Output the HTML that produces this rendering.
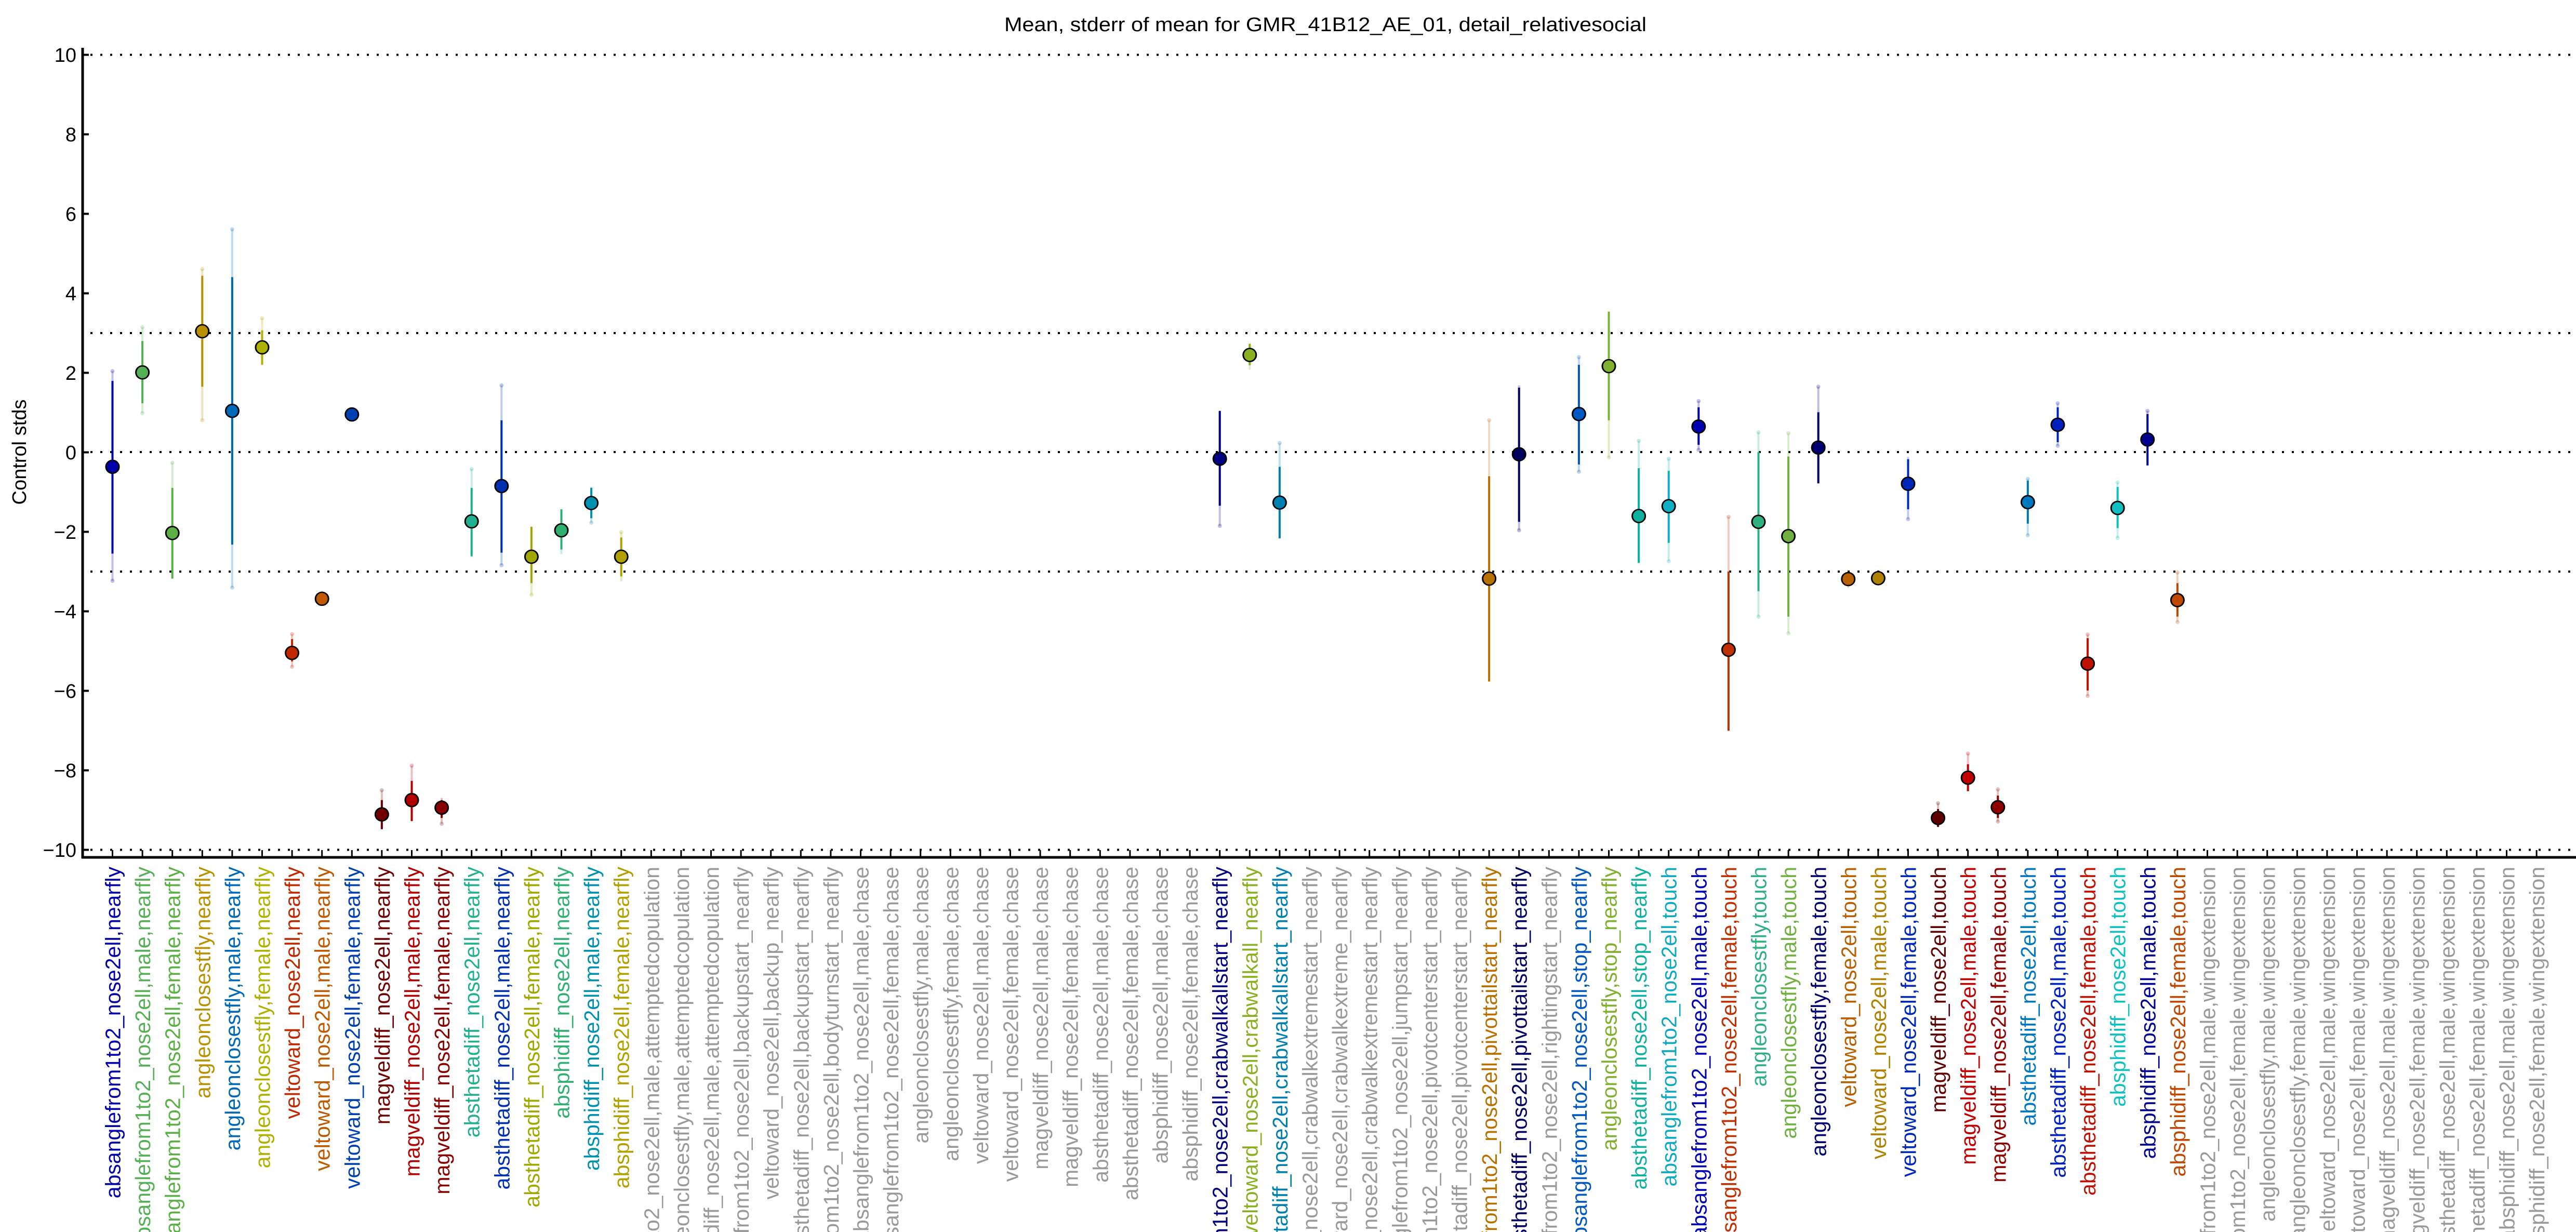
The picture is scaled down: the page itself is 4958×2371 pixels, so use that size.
<!DOCTYPE html>
<html><head><meta charset="utf-8"><style>
html,body{margin:0;padding:0;background:#fff;width:4958px;height:2371px;overflow:hidden;}
svg{display:block;font-family:"Liberation Sans",Arial,sans-serif;overflow:hidden;}
</style></head><body>
<svg width="4958" height="2371" viewBox="0 0 4958 2371" xmlns="http://www.w3.org/2000/svg">
<rect width="4958" height="2371" fill="#fff"/>
<text x="2551" y="60" font-size="38" text-anchor="middle" textLength="1236" lengthAdjust="spacingAndGlyphs">Mean, stderr of mean for GMR_41B12_AE_01, detail_relativesocial</text>
<text transform="translate(50,870) rotate(-90)" font-size="38" text-anchor="middle">Control stds</text>
<g stroke="#000" stroke-width="4" stroke-dasharray="4 15">
<line x1="174" y1="105.5" x2="4958" y2="105.5"/>
<line x1="174" y1="641" x2="4958" y2="641"/>
<line x1="174" y1="870" x2="4958" y2="870"/>
<line x1="174" y1="1100" x2="4958" y2="1100"/>
<line x1="174" y1="1635.5" x2="4958" y2="1635.5"/>
</g>
<line x1="159" y1="92" x2="159" y2="1652" stroke="#000" stroke-width="5"/>
<line x1="157" y1="1650" x2="4958" y2="1650" stroke="#000" stroke-width="5"/>
<g stroke="#000" stroke-width="4">
<line x1="159" y1="105.5" x2="171" y2="105.5"/><line x1="159" y1="258.5" x2="171" y2="258.5"/><line x1="159" y1="411.5" x2="171" y2="411.5"/><line x1="159" y1="564.5" x2="171" y2="564.5"/><line x1="159" y1="717.5" x2="171" y2="717.5"/><line x1="159" y1="870.5" x2="171" y2="870.5"/><line x1="159" y1="1023.5" x2="171" y2="1023.5"/><line x1="159" y1="1176.5" x2="171" y2="1176.5"/><line x1="159" y1="1329.5" x2="171" y2="1329.5"/><line x1="159" y1="1482.5" x2="171" y2="1482.5"/><line x1="159" y1="1635.5" x2="171" y2="1635.5"/>
</g>
<g font-size="38" text-anchor="end">
<text x="147" y="119">10</text><text x="147" y="272">8</text><text x="147" y="425">6</text><text x="147" y="578">4</text><text x="147" y="731">2</text><text x="147" y="884">0</text><text x="147" y="1037">−2</text><text x="147" y="1190">−4</text><text x="147" y="1343">−6</text><text x="147" y="1496">−8</text><text x="147" y="1649">−10</text>
</g>
<g stroke="#000" stroke-width="3">
<line x1="216.5" y1="1650" x2="216.5" y2="1636"/><line x1="274.1" y1="1650" x2="274.1" y2="1636"/><line x1="331.7" y1="1650" x2="331.7" y2="1636"/><line x1="389.3" y1="1650" x2="389.3" y2="1636"/><line x1="446.9" y1="1650" x2="446.9" y2="1636"/><line x1="504.5" y1="1650" x2="504.5" y2="1636"/><line x1="562.1" y1="1650" x2="562.1" y2="1636"/><line x1="619.7" y1="1650" x2="619.7" y2="1636"/><line x1="677.3" y1="1650" x2="677.3" y2="1636"/><line x1="734.9" y1="1650" x2="734.9" y2="1636"/><line x1="792.5" y1="1650" x2="792.5" y2="1636"/><line x1="850.1" y1="1650" x2="850.1" y2="1636"/><line x1="907.7" y1="1650" x2="907.7" y2="1636"/><line x1="965.3" y1="1650" x2="965.3" y2="1636"/><line x1="1022.9" y1="1650" x2="1022.9" y2="1636"/><line x1="1080.5" y1="1650" x2="1080.5" y2="1636"/><line x1="1138.1" y1="1650" x2="1138.1" y2="1636"/><line x1="1195.7" y1="1650" x2="1195.7" y2="1636"/><line x1="1253.3" y1="1650" x2="1253.3" y2="1636"/><line x1="1310.9" y1="1650" x2="1310.9" y2="1636"/><line x1="1368.5" y1="1650" x2="1368.5" y2="1636"/><line x1="1426.1" y1="1650" x2="1426.1" y2="1636"/><line x1="1483.7" y1="1650" x2="1483.7" y2="1636"/><line x1="1541.3" y1="1650" x2="1541.3" y2="1636"/><line x1="1598.9" y1="1650" x2="1598.9" y2="1636"/><line x1="1656.5" y1="1650" x2="1656.5" y2="1636"/><line x1="1714.1" y1="1650" x2="1714.1" y2="1636"/><line x1="1771.7" y1="1650" x2="1771.7" y2="1636"/><line x1="1829.3" y1="1650" x2="1829.3" y2="1636"/><line x1="1886.9" y1="1650" x2="1886.9" y2="1636"/><line x1="1944.5" y1="1650" x2="1944.5" y2="1636"/><line x1="2002.1" y1="1650" x2="2002.1" y2="1636"/><line x1="2059.7" y1="1650" x2="2059.7" y2="1636"/><line x1="2117.3" y1="1650" x2="2117.3" y2="1636"/><line x1="2174.9" y1="1650" x2="2174.9" y2="1636"/><line x1="2232.5" y1="1650" x2="2232.5" y2="1636"/><line x1="2290.1" y1="1650" x2="2290.1" y2="1636"/><line x1="2347.7" y1="1650" x2="2347.7" y2="1636"/><line x1="2405.3" y1="1650" x2="2405.3" y2="1636"/><line x1="2462.9" y1="1650" x2="2462.9" y2="1636"/><line x1="2520.5" y1="1650" x2="2520.5" y2="1636"/><line x1="2578.1" y1="1650" x2="2578.1" y2="1636"/><line x1="2635.7" y1="1650" x2="2635.7" y2="1636"/><line x1="2693.3" y1="1650" x2="2693.3" y2="1636"/><line x1="2750.9" y1="1650" x2="2750.9" y2="1636"/><line x1="2808.5" y1="1650" x2="2808.5" y2="1636"/><line x1="2866.1" y1="1650" x2="2866.1" y2="1636"/><line x1="2923.7" y1="1650" x2="2923.7" y2="1636"/><line x1="2981.3" y1="1650" x2="2981.3" y2="1636"/><line x1="3038.9" y1="1650" x2="3038.9" y2="1636"/><line x1="3096.5" y1="1650" x2="3096.5" y2="1636"/><line x1="3154.1" y1="1650" x2="3154.1" y2="1636"/><line x1="3211.7" y1="1650" x2="3211.7" y2="1636"/><line x1="3269.3" y1="1650" x2="3269.3" y2="1636"/><line x1="3326.9" y1="1650" x2="3326.9" y2="1636"/><line x1="3384.5" y1="1650" x2="3384.5" y2="1636"/><line x1="3442.1" y1="1650" x2="3442.1" y2="1636"/><line x1="3499.7" y1="1650" x2="3499.7" y2="1636"/><line x1="3557.3" y1="1650" x2="3557.3" y2="1636"/><line x1="3614.9" y1="1650" x2="3614.9" y2="1636"/><line x1="3672.5" y1="1650" x2="3672.5" y2="1636"/><line x1="3730.1" y1="1650" x2="3730.1" y2="1636"/><line x1="3787.7" y1="1650" x2="3787.7" y2="1636"/><line x1="3845.3" y1="1650" x2="3845.3" y2="1636"/><line x1="3902.9" y1="1650" x2="3902.9" y2="1636"/><line x1="3960.5" y1="1650" x2="3960.5" y2="1636"/><line x1="4018.1" y1="1650" x2="4018.1" y2="1636"/><line x1="4075.7" y1="1650" x2="4075.7" y2="1636"/><line x1="4133.3" y1="1650" x2="4133.3" y2="1636"/><line x1="4190.9" y1="1650" x2="4190.9" y2="1636"/><line x1="4248.5" y1="1650" x2="4248.5" y2="1636"/><line x1="4306.1" y1="1650" x2="4306.1" y2="1636"/><line x1="4363.7" y1="1650" x2="4363.7" y2="1636"/><line x1="4421.3" y1="1650" x2="4421.3" y2="1636"/><line x1="4478.9" y1="1650" x2="4478.9" y2="1636"/><line x1="4536.5" y1="1650" x2="4536.5" y2="1636"/><line x1="4594.1" y1="1650" x2="4594.1" y2="1636"/><line x1="4651.7" y1="1650" x2="4651.7" y2="1636"/><line x1="4709.3" y1="1650" x2="4709.3" y2="1636"/><line x1="4766.9" y1="1650" x2="4766.9" y2="1636"/><line x1="4824.5" y1="1650" x2="4824.5" y2="1636"/><line x1="4882.1" y1="1650" x2="4882.1" y2="1636"/>
</g>

<g transform="translate(0,300) scale(1,0.86096)" stroke-width="4">
<g stroke="#0000a8" fill="#0000a8"><line x1="216.5" y1="481" x2="216.5" y2="950" stroke-opacity=".25"/><line x1="216.5" y1="503" x2="216.5" y2="889"/><ellipse cx="216.5" cy="481" rx="4" ry="4.6" stroke="none" fill-opacity=".25"/><ellipse cx="216.5" cy="950" rx="4" ry="4.6" stroke="none" fill-opacity=".25"/><ellipse cx="216.5" cy="695" rx="12.5" ry="14.5" stroke="#000" stroke-width="3"/></g>
<g stroke="#55b055" fill="#55b055"><line x1="274.1" y1="383" x2="274.1" y2="575" stroke-opacity=".25"/><line x1="274.1" y1="414" x2="274.1" y2="553"/><ellipse cx="274.1" cy="383" rx="4" ry="4.6" stroke="none" fill-opacity=".25"/><ellipse cx="274.1" cy="575" rx="4" ry="4.6" stroke="none" fill-opacity=".25"/><ellipse cx="274.1" cy="484" rx="12.5" ry="14.5" stroke="#000" stroke-width="3"/></g>
<g stroke="#5ab045" fill="#5ab045"><line x1="331.7" y1="686" x2="331.7" y2="945" stroke-opacity=".25"/><line x1="331.7" y1="742" x2="331.7" y2="945"/><ellipse cx="331.7" cy="686" rx="4" ry="4.6" stroke="none" fill-opacity=".25"/><ellipse cx="331.7" cy="843" rx="12.5" ry="14.5" stroke="#000" stroke-width="3"/></g>
<g stroke="#b89000" fill="#b89000"><line x1="389.3" y1="253" x2="389.3" y2="591" stroke-opacity=".25"/><line x1="389.3" y1="268" x2="389.3" y2="516"/><ellipse cx="389.3" cy="253" rx="4" ry="4.6" stroke="none" fill-opacity=".25"/><ellipse cx="389.3" cy="591" rx="4" ry="4.6" stroke="none" fill-opacity=".25"/><ellipse cx="389.3" cy="392" rx="12.5" ry="14.5" stroke="#000" stroke-width="3"/></g>
<g stroke="#0068b8" fill="#0068b8"><line x1="446.9" y1="164" x2="446.9" y2="965" stroke-opacity=".25"/><line x1="446.9" y1="271" x2="446.9" y2="869"/><ellipse cx="446.9" cy="164" rx="4" ry="4.6" stroke="none" fill-opacity=".25"/><ellipse cx="446.9" cy="965" rx="4" ry="4.6" stroke="none" fill-opacity=".25"/><ellipse cx="446.9" cy="570" rx="12.5" ry="14.5" stroke="#000" stroke-width="3"/></g>
<g stroke="#b0b000" fill="#b0b000"><line x1="504.5" y1="363" x2="504.5" y2="467" stroke-opacity=".25"/><line x1="504.5" y1="390" x2="504.5" y2="467"/><ellipse cx="504.5" cy="363" rx="4" ry="4.6" stroke="none" fill-opacity=".25"/><ellipse cx="504.5" cy="428" rx="12.5" ry="14.5" stroke="#000" stroke-width="3"/></g>
<g stroke="#c02800" fill="#c02800"><line x1="562.1" y1="1069" x2="562.1" y2="1142" stroke-opacity=".25"/><line x1="562.1" y1="1080" x2="562.1" y2="1130"/><ellipse cx="562.1" cy="1069" rx="4" ry="4.6" stroke="none" fill-opacity=".25"/><ellipse cx="562.1" cy="1142" rx="4" ry="4.6" stroke="none" fill-opacity=".25"/><ellipse cx="562.1" cy="1111" rx="12.5" ry="14.5" stroke="#000" stroke-width="3"/></g>
<g stroke="#c05800" fill="#c05800"><line x1="619.7" y1="972" x2="619.7" y2="1005" stroke-opacity=".25"/><ellipse cx="619.7" cy="990" rx="12.5" ry="14.5" stroke="#000" stroke-width="3"/></g>
<g stroke="#0040b0" fill="#0040b0"><ellipse cx="677.3" cy="578" rx="12.5" ry="14.5" stroke="#000" stroke-width="3"/></g>
<g stroke="#700000" fill="#700000"><line x1="734.9" y1="1418" x2="734.9" y2="1505" stroke-opacity=".25"/><line x1="734.9" y1="1440" x2="734.9" y2="1505"/><ellipse cx="734.9" cy="1418" rx="4" ry="4.6" stroke="none" fill-opacity=".25"/><ellipse cx="734.9" cy="1472" rx="12.5" ry="14.5" stroke="#000" stroke-width="3"/></g>
<g stroke="#b00000" fill="#b00000"><line x1="792.5" y1="1363" x2="792.5" y2="1475" stroke-opacity=".25"/><line x1="792.5" y1="1397" x2="792.5" y2="1487"/><ellipse cx="792.5" cy="1363" rx="4" ry="4.6" stroke="none" fill-opacity=".25"/><ellipse cx="792.5" cy="1440" rx="12.5" ry="14.5" stroke="#000" stroke-width="3"/></g>
<g stroke="#880000" fill="#880000"><line x1="850.1" y1="1435" x2="850.1" y2="1493" stroke-opacity=".25"/><line x1="850.1" y1="1440" x2="850.1" y2="1480"/><ellipse cx="850.1" cy="1493" rx="4" ry="4.6" stroke="none" fill-opacity=".25"/><ellipse cx="850.1" cy="1457" rx="12.5" ry="14.5" stroke="#000" stroke-width="3"/></g>
<g stroke="#20b090" fill="#20b090"><line x1="907.7" y1="700" x2="907.7" y2="897" stroke-opacity=".25"/><line x1="907.7" y1="742" x2="907.7" y2="895"/><ellipse cx="907.7" cy="700" rx="4" ry="4.6" stroke="none" fill-opacity=".25"/><ellipse cx="907.7" cy="817" rx="12.5" ry="14.5" stroke="#000" stroke-width="3"/></g>
<g stroke="#0030b0" fill="#0030b0"><line x1="965.3" y1="513" x2="965.3" y2="915" stroke-opacity=".25"/><line x1="965.3" y1="591" x2="965.3" y2="887"/><ellipse cx="965.3" cy="513" rx="4" ry="4.6" stroke="none" fill-opacity=".25"/><ellipse cx="965.3" cy="915" rx="4" ry="4.6" stroke="none" fill-opacity=".25"/><ellipse cx="965.3" cy="738" rx="12.5" ry="14.5" stroke="#000" stroke-width="3"/></g>
<g stroke="#a0a800" fill="#a0a800"><line x1="1022.9" y1="829" x2="1022.9" y2="981" stroke-opacity=".25"/><line x1="1022.9" y1="829" x2="1022.9" y2="955"/><ellipse cx="1022.9" cy="981" rx="4" ry="4.6" stroke="none" fill-opacity=".25"/><ellipse cx="1022.9" cy="896" rx="12.5" ry="14.5" stroke="#000" stroke-width="3"/></g>
<g stroke="#30b070" fill="#30b070"><line x1="1080.5" y1="790" x2="1080.5" y2="890" stroke-opacity=".25"/><line x1="1080.5" y1="790" x2="1080.5" y2="880"/><ellipse cx="1080.5" cy="837" rx="12.5" ry="14.5" stroke="#000" stroke-width="3"/></g>
<g stroke="#0090b0" fill="#0090b0"><line x1="1138.1" y1="740" x2="1138.1" y2="820" stroke-opacity=".25"/><line x1="1138.1" y1="742" x2="1138.1" y2="810"/><ellipse cx="1138.1" cy="820" rx="4" ry="4.6" stroke="none" fill-opacity=".25"/><ellipse cx="1138.1" cy="776" rx="12.5" ry="14.5" stroke="#000" stroke-width="3"/></g>
<g stroke="#b0a000" fill="#b0a000"><line x1="1195.7" y1="841" x2="1195.7" y2="951" stroke-opacity=".25"/><line x1="1195.7" y1="853" x2="1195.7" y2="940"/><ellipse cx="1195.7" cy="841" rx="4" ry="4.6" stroke="none" fill-opacity=".25"/><ellipse cx="1195.7" cy="896" rx="12.5" ry="14.5" stroke="#000" stroke-width="3"/></g>

<g stroke="#000080" fill="#000080"><line x1="2347.7" y1="570" x2="2347.7" y2="827" stroke-opacity=".25"/><line x1="2347.7" y1="570" x2="2347.7" y2="782"/><ellipse cx="2347.7" cy="827" rx="4" ry="4.6" stroke="none" fill-opacity=".25"/><ellipse cx="2347.7" cy="677" rx="12.5" ry="14.5" stroke="#000" stroke-width="3"/></g>
<g stroke="#88b020" fill="#88b020"><line x1="2405.3" y1="420" x2="2405.3" y2="478" stroke-opacity=".25"/><line x1="2405.3" y1="420" x2="2405.3" y2="468"/><ellipse cx="2405.3" cy="445" rx="12.5" ry="14.5" stroke="#000" stroke-width="3"/></g>
<g stroke="#0080b0" fill="#0080b0"><line x1="2462.9" y1="642" x2="2462.9" y2="845" stroke-opacity=".25"/><line x1="2462.9" y1="695" x2="2462.9" y2="855"/><ellipse cx="2462.9" cy="642" rx="4" ry="4.6" stroke="none" fill-opacity=".25"/><ellipse cx="2462.9" cy="775" rx="12.5" ry="14.5" stroke="#000" stroke-width="3"/></g>
<g stroke="#b87000" fill="#b87000"><line x1="2866.1" y1="591" x2="2866.1" y2="1160" stroke-opacity=".25"/><line x1="2866.1" y1="716" x2="2866.1" y2="1175"/><ellipse cx="2866.1" cy="591" rx="4" ry="4.6" stroke="none" fill-opacity=".25"/><ellipse cx="2866.1" cy="945" rx="12.5" ry="14.5" stroke="#000" stroke-width="3"/></g>
<g stroke="#000060" fill="#000060"><line x1="2923.7" y1="513" x2="2923.7" y2="837" stroke-opacity=".25"/><line x1="2923.7" y1="518" x2="2923.7" y2="818"/><ellipse cx="2923.7" cy="837" rx="4" ry="4.6" stroke="none" fill-opacity=".25"/><ellipse cx="2923.7" cy="667" rx="12.5" ry="14.5" stroke="#000" stroke-width="3"/></g>
<g stroke="#0058c0" fill="#0058c0"><line x1="3038.9" y1="450" x2="3038.9" y2="706" stroke-opacity=".25"/><line x1="3038.9" y1="467" x2="3038.9" y2="690"/><ellipse cx="3038.9" cy="450" rx="4" ry="4.6" stroke="none" fill-opacity=".25"/><ellipse cx="3038.9" cy="706" rx="4" ry="4.6" stroke="none" fill-opacity=".25"/><ellipse cx="3038.9" cy="577" rx="12.5" ry="14.5" stroke="#000" stroke-width="3"/></g>
<g stroke="#80b030" fill="#80b030"><line x1="3096.5" y1="348" x2="3096.5" y2="674" stroke-opacity=".25"/><line x1="3096.5" y1="348" x2="3096.5" y2="591"/><ellipse cx="3096.5" cy="674" rx="4" ry="4.6" stroke="none" fill-opacity=".25"/><ellipse cx="3096.5" cy="470" rx="12.5" ry="14.5" stroke="#000" stroke-width="3"/></g>
<g stroke="#10b0a0" fill="#10b0a0"><line x1="3154.1" y1="637" x2="3154.1" y2="905" stroke-opacity=".25"/><line x1="3154.1" y1="698" x2="3154.1" y2="910"/><ellipse cx="3154.1" cy="637" rx="4" ry="4.6" stroke="none" fill-opacity=".25"/><ellipse cx="3154.1" cy="805" rx="12.5" ry="14.5" stroke="#000" stroke-width="3"/></g>
<g stroke="#10b0c0" fill="#10b0c0"><line x1="3211.7" y1="677" x2="3211.7" y2="906" stroke-opacity=".25"/><line x1="3211.7" y1="704" x2="3211.7" y2="865"/><ellipse cx="3211.7" cy="677" rx="4" ry="4.6" stroke="none" fill-opacity=".25"/><ellipse cx="3211.7" cy="906" rx="4" ry="4.6" stroke="none" fill-opacity=".25"/><ellipse cx="3211.7" cy="783" rx="12.5" ry="14.5" stroke="#000" stroke-width="3"/></g>
<g stroke="#0000b0" fill="#0000b0"><line x1="3269.3" y1="548" x2="3269.3" y2="657" stroke-opacity=".25"/><line x1="3269.3" y1="562" x2="3269.3" y2="646"/><ellipse cx="3269.3" cy="548" rx="4" ry="4.6" stroke="none" fill-opacity=".25"/><ellipse cx="3269.3" cy="657" rx="4" ry="4.6" stroke="none" fill-opacity=".25"/><ellipse cx="3269.3" cy="605" rx="12.5" ry="14.5" stroke="#000" stroke-width="3"/></g>
<g stroke="#c03000" fill="#c03000"><line x1="3326.9" y1="807" x2="3326.9" y2="1285" stroke-opacity=".25"/><line x1="3326.9" y1="929" x2="3326.9" y2="1285"/><ellipse cx="3326.9" cy="807" rx="4" ry="4.6" stroke="none" fill-opacity=".25"/><ellipse cx="3326.9" cy="1104" rx="12.5" ry="14.5" stroke="#000" stroke-width="3"/></g>
<g stroke="#30b080" fill="#30b080"><line x1="3384.5" y1="618" x2="3384.5" y2="1030" stroke-opacity=".25"/><line x1="3384.5" y1="662" x2="3384.5" y2="973"/><ellipse cx="3384.5" cy="618" rx="4" ry="4.6" stroke="none" fill-opacity=".25"/><ellipse cx="3384.5" cy="1030" rx="4" ry="4.6" stroke="none" fill-opacity=".25"/><ellipse cx="3384.5" cy="818" rx="12.5" ry="14.5" stroke="#000" stroke-width="3"/></g>
<g stroke="#70b040" fill="#70b040"><line x1="3442.1" y1="620" x2="3442.1" y2="1067" stroke-opacity=".25"/><line x1="3442.1" y1="672" x2="3442.1" y2="1030"/><ellipse cx="3442.1" cy="620" rx="4" ry="4.6" stroke="none" fill-opacity=".25"/><ellipse cx="3442.1" cy="1067" rx="4" ry="4.6" stroke="none" fill-opacity=".25"/><ellipse cx="3442.1" cy="850" rx="12.5" ry="14.5" stroke="#000" stroke-width="3"/></g>
<g stroke="#000070" fill="#000070"><line x1="3499.7" y1="516" x2="3499.7" y2="732" stroke-opacity=".25"/><line x1="3499.7" y1="573" x2="3499.7" y2="732"/><ellipse cx="3499.7" cy="516" rx="4" ry="4.6" stroke="none" fill-opacity=".25"/><ellipse cx="3499.7" cy="652" rx="12.5" ry="14.5" stroke="#000" stroke-width="3"/></g>
<g stroke="#b86000" fill="#b86000"><line x1="3557.3" y1="928" x2="3557.3" y2="966" stroke-opacity=".25"/><ellipse cx="3557.3" cy="946" rx="12.5" ry="14.5" stroke="#000" stroke-width="3"/></g>
<g stroke="#b08000" fill="#b08000"><ellipse cx="3614.9" cy="944" rx="12.5" ry="14.5" stroke="#000" stroke-width="3"/></g>
<g stroke="#0028b8" fill="#0028b8"><line x1="3672.5" y1="673" x2="3672.5" y2="812" stroke-opacity=".25"/><line x1="3672.5" y1="678" x2="3672.5" y2="790"/><ellipse cx="3672.5" cy="812" rx="4" ry="4.6" stroke="none" fill-opacity=".25"/><ellipse cx="3672.5" cy="733" rx="12.5" ry="14.5" stroke="#000" stroke-width="3"/></g>
<g stroke="#600000" fill="#600000"><line x1="3730.1" y1="1447" x2="3730.1" y2="1500" stroke-opacity=".25"/><line x1="3730.1" y1="1460" x2="3730.1" y2="1500"/><ellipse cx="3730.1" cy="1447" rx="4" ry="4.6" stroke="none" fill-opacity=".25"/><ellipse cx="3730.1" cy="1480" rx="12.5" ry="14.5" stroke="#000" stroke-width="3"/></g>
<g stroke="#c00000" fill="#c00000"><line x1="3787.7" y1="1336" x2="3787.7" y2="1420" stroke-opacity=".25"/><line x1="3787.7" y1="1360" x2="3787.7" y2="1420"/><ellipse cx="3787.7" cy="1336" rx="4" ry="4.6" stroke="none" fill-opacity=".25"/><ellipse cx="3787.7" cy="1390" rx="12.5" ry="14.5" stroke="#000" stroke-width="3"/></g>
<g stroke="#900000" fill="#900000"><line x1="3845.3" y1="1416" x2="3845.3" y2="1488" stroke-opacity=".25"/><line x1="3845.3" y1="1430" x2="3845.3" y2="1480"/><ellipse cx="3845.3" cy="1416" rx="4" ry="4.6" stroke="none" fill-opacity=".25"/><ellipse cx="3845.3" cy="1488" rx="4" ry="4.6" stroke="none" fill-opacity=".25"/><ellipse cx="3845.3" cy="1456" rx="12.5" ry="14.5" stroke="#000" stroke-width="3"/></g>
<g stroke="#0078c0" fill="#0078c0"><line x1="3902.9" y1="722" x2="3902.9" y2="848" stroke-opacity=".25"/><line x1="3902.9" y1="726" x2="3902.9" y2="822"/><ellipse cx="3902.9" cy="722" rx="4" ry="4.6" stroke="none" fill-opacity=".25"/><ellipse cx="3902.9" cy="848" rx="4" ry="4.6" stroke="none" fill-opacity=".25"/><ellipse cx="3902.9" cy="774" rx="12.5" ry="14.5" stroke="#000" stroke-width="3"/></g>
<g stroke="#0020c0" fill="#0020c0"><line x1="3960.5" y1="553" x2="3960.5" y2="648" stroke-opacity=".25"/><line x1="3960.5" y1="562" x2="3960.5" y2="640"/><ellipse cx="3960.5" cy="553" rx="4" ry="4.6" stroke="none" fill-opacity=".25"/><ellipse cx="3960.5" cy="648" rx="4" ry="4.6" stroke="none" fill-opacity=".25"/><ellipse cx="3960.5" cy="601" rx="12.5" ry="14.5" stroke="#000" stroke-width="3"/></g>
<g stroke="#c01000" fill="#c01000"><line x1="4018.1" y1="1070" x2="4018.1" y2="1207" stroke-opacity=".25"/><line x1="4018.1" y1="1078" x2="4018.1" y2="1195"/><ellipse cx="4018.1" cy="1070" rx="4" ry="4.6" stroke="none" fill-opacity=".25"/><ellipse cx="4018.1" cy="1207" rx="4" ry="4.6" stroke="none" fill-opacity=".25"/><ellipse cx="4018.1" cy="1135" rx="12.5" ry="14.5" stroke="#000" stroke-width="3"/></g>
<g stroke="#10c0c0" fill="#10c0c0"><line x1="4075.7" y1="730" x2="4075.7" y2="854" stroke-opacity=".25"/><line x1="4075.7" y1="740" x2="4075.7" y2="832"/><ellipse cx="4075.7" cy="730" rx="4" ry="4.6" stroke="none" fill-opacity=".25"/><ellipse cx="4075.7" cy="854" rx="4" ry="4.6" stroke="none" fill-opacity=".25"/><ellipse cx="4075.7" cy="787" rx="12.5" ry="14.5" stroke="#000" stroke-width="3"/></g>
<g stroke="#000090" fill="#000090"><line x1="4133.3" y1="570" x2="4133.3" y2="692" stroke-opacity=".25"/><line x1="4133.3" y1="577" x2="4133.3" y2="692"/><ellipse cx="4133.3" cy="570" rx="4" ry="4.6" stroke="none" fill-opacity=".25"/><ellipse cx="4133.3" cy="634" rx="12.5" ry="14.5" stroke="#000" stroke-width="3"/></g>
<g stroke="#c04800" fill="#c04800"><line x1="4190.9" y1="931" x2="4190.9" y2="1042" stroke-opacity=".25"/><line x1="4190.9" y1="955" x2="4190.9" y2="1030"/><ellipse cx="4190.9" cy="931" rx="4" ry="4.6" stroke="none" fill-opacity=".25"/><ellipse cx="4190.9" cy="1042" rx="4" ry="4.6" stroke="none" fill-opacity=".25"/><ellipse cx="4190.9" cy="993" rx="12.5" ry="14.5" stroke="#000" stroke-width="3"/></g>
</g>

<g font-size="41" text-anchor="end">
<text transform="translate(231.5,1668) rotate(-90)" fill="#0000a8">absanglefrom1to2_nose2ell,nearfly</text>
<text transform="translate(289.1,1668) rotate(-90)" fill="#55b055">absanglefrom1to2_nose2ell,male,nearfly</text>
<text transform="translate(346.7,1668) rotate(-90)" fill="#5ab045">absanglefrom1to2_nose2ell,female,nearfly</text>
<text transform="translate(404.3,1668) rotate(-90)" fill="#b89000">angleonclosestfly,nearfly</text>
<text transform="translate(461.9,1668) rotate(-90)" fill="#0068b8">angleonclosestfly,male,nearfly</text>
<text transform="translate(519.5,1668) rotate(-90)" fill="#b0b000">angleonclosestfly,female,nearfly</text>
<text transform="translate(577.1,1668) rotate(-90)" fill="#c02800">veltoward_nose2ell,nearfly</text>
<text transform="translate(634.7,1668) rotate(-90)" fill="#c05800">veltoward_nose2ell,male,nearfly</text>
<text transform="translate(692.3,1668) rotate(-90)" fill="#0040b0">veltoward_nose2ell,female,nearfly</text>
<text transform="translate(749.9,1668) rotate(-90)" fill="#700000">magveldiff_nose2ell,nearfly</text>
<text transform="translate(807.5,1668) rotate(-90)" fill="#b00000">magveldiff_nose2ell,male,nearfly</text>
<text transform="translate(865.1,1668) rotate(-90)" fill="#880000">magveldiff_nose2ell,female,nearfly</text>
<text transform="translate(922.7,1668) rotate(-90)" fill="#20b090">absthetadiff_nose2ell,nearfly</text>
<text transform="translate(980.3,1668) rotate(-90)" fill="#0030b0">absthetadiff_nose2ell,male,nearfly</text>
<text transform="translate(1037.9,1668) rotate(-90)" fill="#a0a800">absthetadiff_nose2ell,female,nearfly</text>
<text transform="translate(1095.5,1668) rotate(-90)" fill="#30b070">absphidiff_nose2ell,nearfly</text>
<text transform="translate(1153.1,1668) rotate(-90)" fill="#0090b0">absphidiff_nose2ell,male,nearfly</text>
<text transform="translate(1210.7,1668) rotate(-90)" fill="#b0a000">absphidiff_nose2ell,female,nearfly</text>
<g fill="#999">
<text transform="translate(1268.3,1668) rotate(-90)">absanglefrom1to2_nose2ell,male,attemptedcopulation</text>
<text transform="translate(1325.9,1668) rotate(-90)">angleonclosestfly,male,attemptedcopulation</text>
<text transform="translate(1383.5,1668) rotate(-90)">magveldiff_nose2ell,male,attemptedcopulation</text>
<text transform="translate(1441.1,1668) rotate(-90)">absanglefrom1to2_nose2ell,backupstart_nearfly</text>
<text transform="translate(1498.7,1668) rotate(-90)">veltoward_nose2ell,backup_nearfly</text>
<text transform="translate(1556.3,1668) rotate(-90)">absthetadiff_nose2ell,backupstart_nearfly</text>
<text transform="translate(1613.9,1668) rotate(-90)">absanglefrom1to2_nose2ell,bodyturnstart_nearfly</text>
<text transform="translate(1671.5,1668) rotate(-90)">absanglefrom1to2_nose2ell,male,chase</text>
<text transform="translate(1729.1,1668) rotate(-90)">absanglefrom1to2_nose2ell,female,chase</text>
<text transform="translate(1786.7,1668) rotate(-90)">angleonclosestfly,male,chase</text>
<text transform="translate(1844.3,1668) rotate(-90)">angleonclosestfly,female,chase</text>
<text transform="translate(1901.9,1668) rotate(-90)">veltoward_nose2ell,male,chase</text>
<text transform="translate(1959.5,1668) rotate(-90)">veltoward_nose2ell,female,chase</text>
<text transform="translate(2017.1,1668) rotate(-90)">magveldiff_nose2ell,male,chase</text>
<text transform="translate(2074.7,1668) rotate(-90)">magveldiff_nose2ell,female,chase</text>
<text transform="translate(2132.3,1668) rotate(-90)">absthetadiff_nose2ell,male,chase</text>
<text transform="translate(2189.9,1668) rotate(-90)">absthetadiff_nose2ell,female,chase</text>
<text transform="translate(2247.5,1668) rotate(-90)">absphidiff_nose2ell,male,chase</text>
<text transform="translate(2305.1,1668) rotate(-90)">absphidiff_nose2ell,female,chase</text>
</g>
<text transform="translate(2362.7,1668) rotate(-90)" fill="#000080">absanglefrom1to2_nose2ell,crabwalkallstart_nearfly</text>
<text transform="translate(2420.3,1668) rotate(-90)" fill="#88b020">veltoward_nose2ell,crabwalkall_nearfly</text>
<text transform="translate(2477.9,1668) rotate(-90)" fill="#0080b0">absthetadiff_nose2ell,crabwalkallstart_nearfly</text>
<g fill="#999">
<text transform="translate(2535.5,1668) rotate(-90)">absanglefrom1to2_nose2ell,crabwalkextremestart_nearfly</text>
<text transform="translate(2593.1,1668) rotate(-90)">veltoward_nose2ell,crabwalkextreme_nearfly</text>
<text transform="translate(2650.7,1668) rotate(-90)">absthetadiff_nose2ell,crabwalkextremestart_nearfly</text>
<text transform="translate(2708.3,1668) rotate(-90)">absanglefrom1to2_nose2ell,jumpstart_nearfly</text>
<text transform="translate(2765.9,1668) rotate(-90)">absanglefrom1to2_nose2ell,pivotcenterstart_nearfly</text>
<text transform="translate(2823.5,1668) rotate(-90)">absthetadiff_nose2ell,pivotcenterstart_nearfly</text>
</g>
<text transform="translate(2881.1,1668) rotate(-90)" fill="#b87000">absanglefrom1to2_nose2ell,pivottailstart_nearfly</text>
<text transform="translate(2938.7,1668) rotate(-90)" fill="#000060">absthetadiff_nose2ell,pivottailstart_nearfly</text>
<text transform="translate(2996.3,1668) rotate(-90)" fill="#999">absanglefrom1to2_nose2ell,rightingstart_nearfly</text>
<text transform="translate(3053.9,1668) rotate(-90)" fill="#0058c0">absanglefrom1to2_nose2ell,stop_nearfly</text>
<text transform="translate(3111.5,1668) rotate(-90)" fill="#80b030">angleonclosestfly,stop_nearfly</text>
<text transform="translate(3169.1,1668) rotate(-90)" fill="#10b0a0">absthetadiff_nose2ell,stop_nearfly</text>
<text transform="translate(3226.7,1668) rotate(-90)" fill="#10a8c0">absanglefrom1to2_nose2ell,touch</text>
<text transform="translate(3284.3,1668) rotate(-90)" fill="#0000b0">absanglefrom1to2_nose2ell,male,touch</text>
<text transform="translate(3341.9,1668) rotate(-90)" fill="#c03000">absanglefrom1to2_nose2ell,female,touch</text>
<text transform="translate(3399.5,1668) rotate(-90)" fill="#30b080">angleonclosestfly,touch</text>
<text transform="translate(3457.1,1668) rotate(-90)" fill="#70b040">angleonclosestfly,male,touch</text>
<text transform="translate(3514.7,1668) rotate(-90)" fill="#000070">angleonclosestfly,female,touch</text>
<text transform="translate(3572.3,1668) rotate(-90)" fill="#b86000">veltoward_nose2ell,touch</text>
<text transform="translate(3629.9,1668) rotate(-90)" fill="#b08000">veltoward_nose2ell,male,touch</text>
<text transform="translate(3687.5,1668) rotate(-90)" fill="#0028b8">veltoward_nose2ell,female,touch</text>
<text transform="translate(3745.1,1668) rotate(-90)" fill="#600000">magveldiff_nose2ell,touch</text>
<text transform="translate(3802.7,1668) rotate(-90)" fill="#c00000">magveldiff_nose2ell,male,touch</text>
<text transform="translate(3860.3,1668) rotate(-90)" fill="#900000">magveldiff_nose2ell,female,touch</text>
<text transform="translate(3917.9,1668) rotate(-90)" fill="#0078c0">absthetadiff_nose2ell,touch</text>
<text transform="translate(3975.5,1668) rotate(-90)" fill="#0020c0">absthetadiff_nose2ell,male,touch</text>
<text transform="translate(4033.1,1668) rotate(-90)" fill="#c01000">absthetadiff_nose2ell,female,touch</text>
<text transform="translate(4090.7,1668) rotate(-90)" fill="#10c0c0">absphidiff_nose2ell,touch</text>
<text transform="translate(4148.3,1668) rotate(-90)" fill="#000090">absphidiff_nose2ell,male,touch</text>
<text transform="translate(4205.9,1668) rotate(-90)" fill="#c04800">absphidiff_nose2ell,female,touch</text>
<g fill="#999">
<text transform="translate(4263.5,1668) rotate(-90)">absanglefrom1to2_nose2ell,male,wingextension</text>
<text transform="translate(4321.1,1668) rotate(-90)">absanglefrom1to2_nose2ell,female,wingextension</text>
<text transform="translate(4378.7,1668) rotate(-90)">angleonclosestfly,male,wingextension</text>
<text transform="translate(4436.3,1668) rotate(-90)">angleonclosestfly,female,wingextension</text>
<text transform="translate(4493.9,1668) rotate(-90)">veltoward_nose2ell,male,wingextension</text>
<text transform="translate(4551.5,1668) rotate(-90)">veltoward_nose2ell,female,wingextension</text>
<text transform="translate(4609.1,1668) rotate(-90)">magveldiff_nose2ell,male,wingextension</text>
<text transform="translate(4666.7,1668) rotate(-90)">magveldiff_nose2ell,female,wingextension</text>
<text transform="translate(4724.3,1668) rotate(-90)">absthetadiff_nose2ell,male,wingextension</text>
<text transform="translate(4781.9,1668) rotate(-90)">absthetadiff_nose2ell,female,wingextension</text>
<text transform="translate(4839.5,1668) rotate(-90)">absphidiff_nose2ell,male,wingextension</text>
<text transform="translate(4897.1,1668) rotate(-90)">absphidiff_nose2ell,female,wingextension</text>
</g>
</g>
</svg>
</body></html>
